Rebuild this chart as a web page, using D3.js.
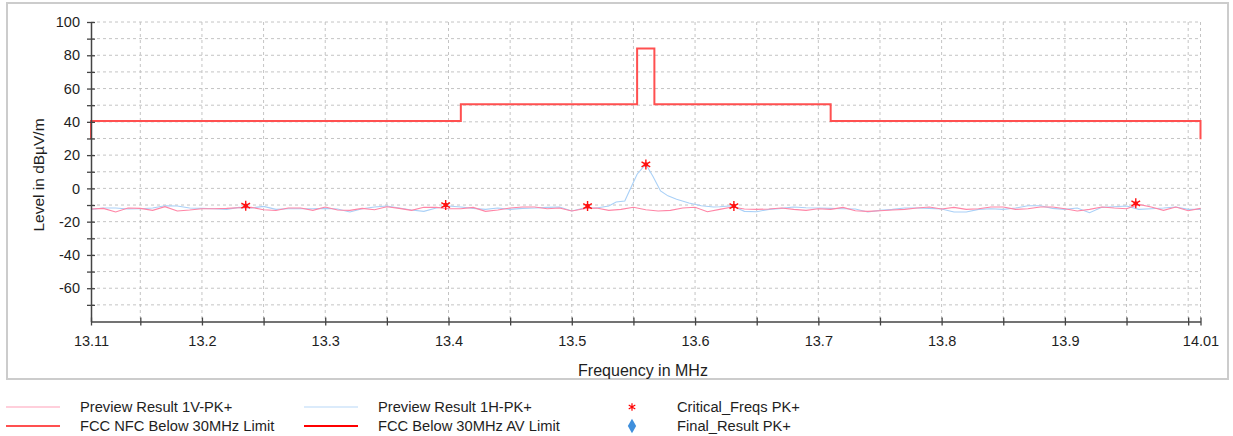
<!DOCTYPE html>
<html>
<head>
<meta charset="utf-8">
<script src="https://cdn.jsdelivr.net/npm/d3@7"></script>
<style>
  body { margin: 0; background: #fff; }
  text { font-family: "Liberation Sans", Arial, sans-serif; fill: #1e1e1e; }
</style>
</head>
<body>
<div id="chart"></div>
<script>
// ---- data ----
var freqV = [13.11,13.12,13.13,13.14,13.15,13.16,13.17,13.18,13.19,13.20,
  13.21,13.22,13.23,13.24,13.25,13.26,13.27,13.28,13.29,13.30,
  13.31,13.32,13.33,13.34,13.35,13.36,13.37,13.38,13.39,13.40,
  13.41,13.42,13.43,13.44,13.45,13.46,13.47,13.48,13.49,13.50,
  13.51,13.52,13.53,13.54,13.55,13.56,13.57,13.58,13.59,13.60,
  13.61,13.62,13.63,13.64,13.65,13.66,13.67,13.68,13.69,13.70,
  13.71,13.72,13.73,13.74,13.75,13.76,13.77,13.78,13.79,13.80,
  13.81,13.82,13.83,13.84,13.85,13.86,13.87,13.88,13.89,13.90,
  13.91,13.92,13.93,13.94,13.95,13.96,13.97,13.98,13.99,14.00,14.01];
var levelV = [-12.4,-12.0,-14.2,-11.8,-12.0,-13.2,-11.0,-13.6,-13.0,-12.2,
  -12.2,-12.0,-11.6,-11.4,-12.8,-13.3,-11.8,-11.8,-13.2,-11.2,
  -13.0,-13.2,-12.0,-12.8,-11.0,-12.0,-13.2,-11.3,-11.4,-12.2,
  -12.2,-11.4,-13.8,-13.0,-11.8,-11.2,-11.2,-12.2,-11.8,-13.6,
  -12.2,-11.8,-13.2,-12.6,-11.3,-12.8,-13.6,-13.2,-11.8,-11.3,
  -14.0,-12.6,-11.2,-12.4,-12.6,-12.4,-11.8,-12.6,-13.2,-12.2,
  -12.6,-11.4,-13.4,-13.8,-13.4,-13.0,-12.6,-11.8,-11.2,-12.4,
  -11.4,-12.6,-12.2,-11.2,-11.2,-12.6,-12.2,-11.2,-11.2,-12.2,
  -13.6,-12.6,-11.2,-11.8,-12.2,-9.6,-11.2,-13.2,-11.2,-13.4,-12.0];

var freqH = [13.11,13.12,13.13,13.14,13.15,13.16,13.17,13.18,13.19,13.20,
  13.21,13.22,13.23,13.24,13.25,13.26,13.27,13.28,13.29,13.30,
  13.31,13.32,13.33,13.34,13.35,13.36,13.37,13.38,13.39,13.40,
  13.41,13.42,13.43,13.44,13.45,13.46,13.47,13.48,13.49,13.50,
  13.51,13.52,13.53,13.536,13.543,13.548,13.553,13.560,13.566,13.572,
  13.578,13.585,13.595,13.605,13.615,13.62,13.63,13.64,13.65,13.66,
  13.67,13.68,13.69,13.70,13.71,13.72,13.73,13.74,13.75,13.76,
  13.77,13.78,13.79,13.80,13.81,13.82,13.83,13.84,13.85,13.86,
  13.87,13.88,13.89,13.90,13.91,13.92,13.93,13.94,13.95,13.96,
  13.97,13.98,13.99,14.00,14.01];
var levelH = [-12.6,-11.8,-11.8,-12.4,-12.2,-11.8,-10.4,-10.6,-11.8,-12.0,
  -12.2,-12.6,-11.4,-11.8,-10.8,-12.6,-12.2,-12.2,-12.2,-12.0,
  -12.4,-14.2,-12.2,-11.2,-10.6,-11.8,-13.0,-13.8,-11.8,-10.6,
  -11.2,-12.0,-12.6,-11.8,-12.6,-12.0,-11.8,-11.4,-11.2,-13.6,
  -11.8,-11.8,-10.6,-8.2,-7.6,0.5,8.5,14.6,7.0,-1.5,
  -4.5,-6.5,-8.8,-10.4,-11.2,-11.0,-10.4,-13.8,-14.0,-12.6,
  -12.0,-11.2,-11.6,-11.8,-12.0,-12.2,-12.4,-14.2,-13.2,-12.6,
  -11.8,-11.8,-12.0,-12.4,-14.2,-14.2,-12.6,-12.2,-12.6,-11.8,
  -10.4,-10.4,-12.0,-12.6,-11.8,-14.6,-11.4,-11.0,-10.6,-12.6,
  -12.2,-11.8,-11.2,-12.6,-12.6];

var limitFreq  = [13.11, 13.11, 13.41, 13.41, 13.553, 13.553, 13.567, 13.567, 13.71, 13.71, 14.01, 14.01];
var limitLevel = [29.5, 40.5, 40.5, 50.5, 50.5, 84, 84, 50.5, 50.5, 40.5, 40.5, 29.5];

var critFreq  = [13.2355, 13.3977, 13.5128, 13.5601, 13.6315, 13.9575];
var critLevel = [-10.4, -10.0, -10.6, 14.4, -10.6, -9.0];

var yTicks  = [-70,-60,-50,-40,-30,-20,-10,0,10,20,30,40,50,60,70,80,90,100];
var yLabels = [-60,-40,-20,0,20,40,60,80,100];
var xTicks  = [13.11,13.15,13.2,13.25,13.3,13.35,13.4,13.45,13.5,13.55,13.6,13.65,13.7,13.75,13.8,13.85,13.9,13.95,14.0,14.01];
var xLabels = [13.11,13.2,13.3,13.4,13.5,13.6,13.7,13.8,13.9,14.01];

var legendItems = [
  {label: "Preview Result 1V-PK+",       kind: "line", color: "#ff9fb8", w: 1.2, col: 0, row: 0},
  {label: "FCC NFC Below 30MHz Limit",   kind: "line", color: "#ff5050", w: 2,   col: 0, row: 1},
  {label: "Preview Result 1H-PK+",       kind: "line", color: "#b8d8f8", w: 1.2, col: 1, row: 0},
  {label: "FCC Below 30MHz AV Limit",    kind: "line", color: "#ff0000", w: 2,   col: 1, row: 1},
  {label: "Critical_Freqs PK+",          kind: "star", color: "#ff0000",         col: 2, row: 0},
  {label: "Final_Result PK+",            kind: "diamond", color: "#3f8fdc",      col: 2, row: 1}
];

// ---- layout ----
var W = 1233, H = 436;
var margin = {left: 91, right: 1200.5, top: 22, bottom: 321.5};

var svg = d3.select("#chart").append("svg")
    .attr("width", W)
    .attr("height", H);

// outer frame
svg.append("rect")
    .attr("x", 7).attr("y", 3)
    .attr("width", 1221).attr("height", 376)
    .attr("fill", "none")
    .attr("stroke", "#cccccc")
    .attr("stroke-width", 2);

var x = d3.scaleLinear().domain([13.11, 14.01]).range([margin.left, margin.right]);
var y = d3.scaleLinear().domain([-80, 100]).range([margin.bottom, margin.top]);

// grid
var grid = svg.append("g")
    .attr("stroke", "#c4c4c4")
    .attr("stroke-dasharray", "3,3")
    .attr("stroke-width", 1);

grid.selectAll(".hgrid")
    .data(yTicks)
  .enter().append("line")
    .attr("x1", margin.left).attr("x2", margin.right)
    .attr("y1", function(d) { return y(d); })
    .attr("y2", function(d) { return y(d); });

grid.selectAll(".vgrid")
    .data(xTicks.slice(1))
  .enter().append("line")
    .attr("y1", margin.top).attr("y2", margin.bottom)
    .attr("x1", function(d) { return x(d); })
    .attr("x2", function(d) { return x(d); });

// traces
var line = d3.line()
    .x(function(d) { return x(d[0]); })
    .y(function(d) { return y(d[1]); });

svg.append("path")
    .datum(d3.zip(freqH, levelH))
    .attr("fill", "none")
    .attr("stroke", "#a9d0f7")
    .attr("stroke-width", 1.1)
    .attr("d", line);

svg.append("path")
    .datum(d3.zip(freqV, levelV))
    .attr("fill", "none")
    .attr("stroke", "#ff85a6")
    .attr("stroke-width", 1.1)
    .attr("d", line);

svg.append("path")
    .datum(d3.zip(limitFreq, limitLevel))
    .attr("fill", "none")
    .attr("stroke", "#ff5050")
    .attr("stroke-width", 2)
    .attr("d", line);

// critical freq markers
var star = d3.symbol().type(d3.symbolAsterisk).size(70);
var crit = svg.selectAll(".crit")
    .data(d3.zip(critFreq, critLevel))
  .enter().append("g")
    .attr("transform", function(d) { return "translate(" + x(d[0]) + "," + y(d[1]) + ")"; });
crit.append("path")
    .attr("d", star)
    .attr("stroke", "#ff1010")
    .attr("stroke-width", 1.4)
    .attr("fill", "none");
crit.append("circle")
    .attr("r", 2.2)
    .attr("fill", "#ff1010");

// axes
var yAxis = svg.append("g")
    .attr("transform", "translate(" + margin.left + ",0)")
    .call(d3.axisLeft(y)
      .tickValues(yTicks)
      .tickSizeOuter(0)
      .tickPadding(5)
      .tickFormat(function(d) { return yLabels.indexOf(d) >= 0 ? d : ""; }));

var xAxis = svg.append("g")
    .attr("transform", "translate(0," + margin.bottom + ")")
    .call(d3.axisBottom(x)
      .tickValues(xTicks)
      .tickSizeOuter(0)
      .tickPadding(8)
      .tickFormat(function(d) { return xLabels.indexOf(d) >= 0 ? d : ""; }));

[yAxis, xAxis].forEach(function(ax) {
  ax.select(".domain").attr("stroke", "#444").attr("stroke-width", 1.5);
  ax.selectAll(".tick line").attr("stroke", "#444").attr("stroke-width", 1.3);
  ax.selectAll(".tick text").attr("font-size", 14.5).attr("fill", "#1e1e1e")
    .attr("font-family", "Liberation Sans, Arial, sans-serif");
});
yAxis.selectAll(".tick line").attr("x1", 4).attr("x2", -4);
xAxis.selectAll(".tick line").attr("y1", -4).attr("y2", 4);

// axis titles
svg.append("text")
    .attr("transform", "translate(44,175) rotate(-90)")
    .attr("text-anchor", "middle")
    .attr("font-size", 15.5)
    .text("Level in dBµV/m");

svg.append("text")
    .attr("x", 643).attr("y", 376)
    .attr("text-anchor", "middle")
    .attr("font-size", 16)
    .text("Frequency in MHz");

// legend
var colX = [6, 304, 632], colW = 54, textX = [80, 378, 677], rowY = [407, 426];
var leg = svg.selectAll(".leg")
    .data(legendItems)
  .enter().append("g");

leg.filter(function(d) { return d.kind === "line"; })
  .append("line")
    .attr("x1", function(d) { return colX[d.col]; })
    .attr("x2", function(d) { return colX[d.col] + colW; })
    .attr("y1", function(d) { return rowY[d.row]; })
    .attr("y2", function(d) { return rowY[d.row]; })
    .attr("stroke", function(d) { return d.color; })
    .attr("stroke-width", function(d) { return d.w; });

leg.filter(function(d) { return d.kind === "star"; })
  .append("path")
    .attr("transform", function(d) { return "translate(" + colX[d.col] + "," + rowY[d.row] + ")"; })
    .attr("d", d3.symbol().type(d3.symbolAsterisk).size(40))
    .attr("stroke", function(d) { return d.color; })
    .attr("stroke-width", 1.2)
    .attr("fill", "none");

leg.filter(function(d) { return d.kind === "diamond"; })
  .append("path")
    .attr("transform", function(d) { return "translate(" + colX[d.col] + "," + rowY[d.row] + ")"; })
    .attr("d", d3.symbol().type(d3.symbolDiamond).size(60))
    .attr("fill", function(d) { return d.color; });

leg.append("text")
    .attr("x", function(d) { return textX[d.col]; })
    .attr("y", function(d) { return rowY[d.row]; })
    .attr("dy", "0.35em")
    .attr("font-size", 14.7)
    .text(function(d) { return d.label; });
</script>
</body>
</html>
